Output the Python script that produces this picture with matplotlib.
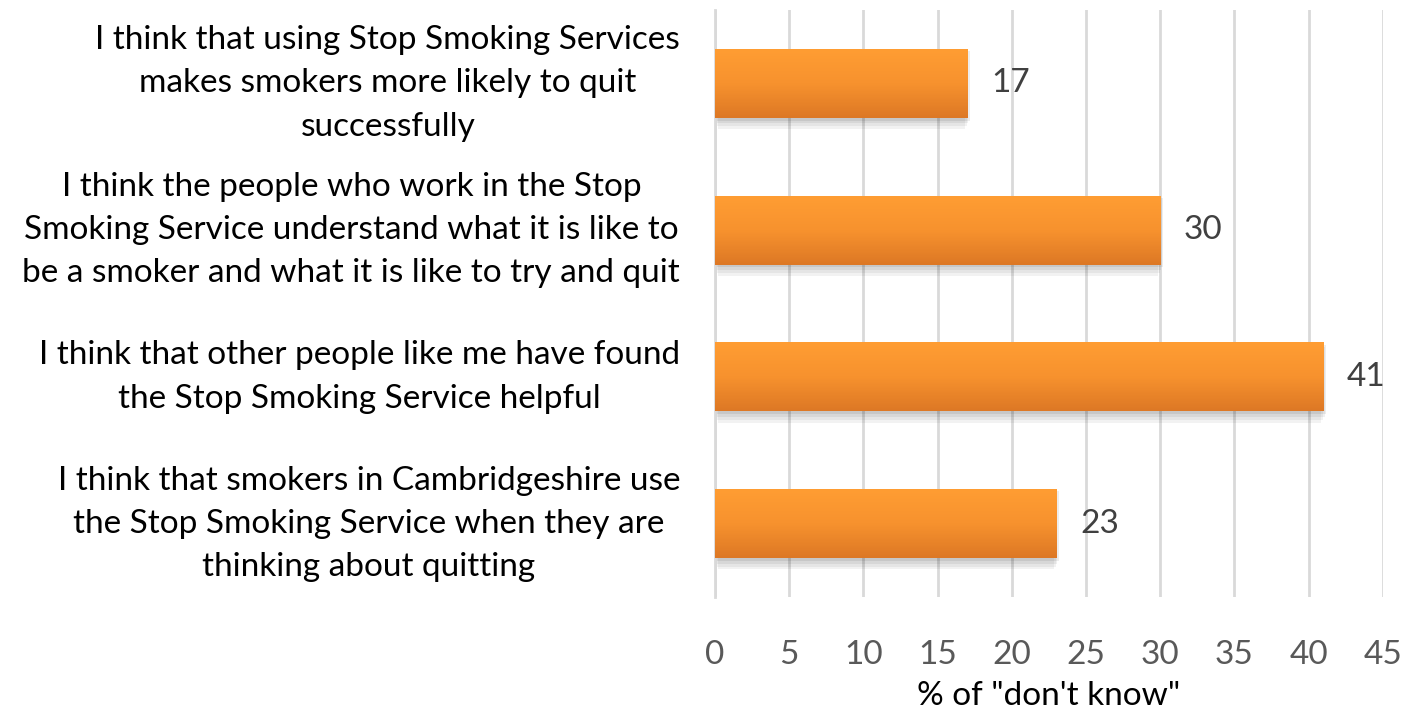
import numpy as np
import matplotlib
matplotlib.use("Agg")
import matplotlib.pyplot as plt
from matplotlib.colors import LinearSegmentedColormap
from matplotlib.patches import Rectangle

plt.rcParams['font.family'] = ['Lato', 'DejaVu Sans']

statements = [
    "I think that using Stop Smoking Services\nmakes smokers more likely to quit\nsuccessfully",
    "I think the people who work in the Stop\nSmoking Service understand what it is like to\nbe a smoker and what it is like to try and quit",
    "I think that other people like me have found\nthe Stop Smoking Service helpful",
    "I think that smokers in Cambridgeshire use\nthe Stop Smoking Service when they are\nthinking about quitting",
]
dont_know = [17, 30, 41, 23]
xticks = [0, 5, 10, 15, 20, 25, 30, 35, 40, 45]

fig = plt.figure(figsize=(14.06, 7.10), dpi=100)
ax = fig.add_axes([0.5085, 0.159, 0.475, 0.827])

y = np.arange(len(statements))
bar_h = 0.47
bars = ax.barh(y, dont_know, height=bar_h, color='#F28C28', zorder=3)

# vertical orange gradient plus a soft drop shadow on every bar
grad = LinearSegmentedColormap.from_list('og', ['#FF9D33', '#F7922E', '#DD7825'])
for b in bars:
    x0, y0 = b.get_x(), b.get_y()
    w, h = b.get_width(), b.get_height()
    for k, a in enumerate([0.05, 0.05, 0.06, 0.07]):
        d = 0.06 * (k + 1)
        ax.add_patch(Rectangle((x0 + 0.05 * (4 - k), y0 + 0.015 * (4 - k)), w - 0.1 * (4 - k) + d,
                               h + 0.004 * (4 - k), color='black', alpha=a, lw=0, zorder=2))
    # y axis is inverted, so the first row of the image sits at the top of the bar
    im = ax.imshow(np.linspace(0, 1, 100).reshape(-1, 1), cmap=grad, aspect='auto',
                   extent=(x0, x0 + w, y0 + h, y0), origin='upper', zorder=3.5)
    im.set_clip_path(b)
    ax.annotate(f"{b.get_width():g}", (x0 + w, y0 + h / 2), xytext=(17, 0),
                textcoords='offset points', ha='left', va='center',
                fontsize=24, color='#404040')

ax.set_xlim(0, 45)
ax.set_ylim(len(statements) - 0.5, -0.5)
ax.set_xticks(xticks)
ax.set_yticks(y)
ax.set_yticklabels([])
# category labels drawn by hand, centred lines, right edge just left of the axis
for yi, s in zip(y, statements):
    ax.annotate(s, xy=(0, yi), xycoords=('axes fraction', 'data'), xytext=(-25, 0),
                textcoords='offset points', ha='right', va='center', ma='center',
                fontsize=24, color='#000000', linespacing=1.55, annotation_clip=False)
ax.tick_params(axis='x', labelsize=24, labelcolor='#595959', length=0, pad=31)
ax.tick_params(axis='y', length=0)
ax.grid(axis='x', color='#D9D9D9', lw=2, zorder=0)
for s in ['top', 'right', 'bottom']:
    ax.spines[s].set_visible(False)
ax.spines['left'].set_color('#D9D9D9')
ax.spines['left'].set_linewidth(2)
ax.set_xlabel("% of \"don't know\"", fontsize=24, color='#000000', labelpad=8)

fig.savefig('out.png', dpi=100)
